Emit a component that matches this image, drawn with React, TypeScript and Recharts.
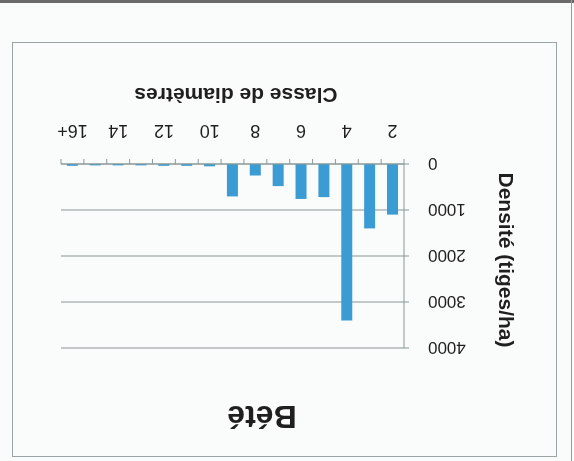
import React from "react";
import { BarChart, Bar, XAxis, YAxis, CartesianGrid } from "recharts";

// Diameter classes and stem density per class (stems/ha)
const classes = ["2", "3", "4", "5", "6", "7", "8", "9", "10", "11", "12", "13", "14", "15", "16+"];
const densite = [1100, 1400, 3400, 720, 760, 480, 250, 705, 50, 40, 40, 30, 30, 30, 40];
const densiteTicks = [0, 1000, 2000, 3000, 4000];

const data = classes.map((classe, i) => ({ classe, densite: densite[i] }));

const FONT = "'Liberation Sans', Arial, sans-serif";
const AXIS_COLOR = "#8a9a98";
const GRID_COLOR = "#8a9494";
const BAR_COLOR = "#3b9bd3";
const TEXT_COLOR = "#1f1f1f";

const X_TICK_OFFSET = 26;
const X_TICK_LEN = 5;

// Category ticks: a mark on each class boundary, label on every other class
const ClasseTick = (props: any) => {
  const { x, y, payload, index, visibleTicksCount } = props;
  const half = payload?.offset ?? 0;
  const axisY = y - X_TICK_OFFSET;
  const isLast = index === visibleTicksCount - 1;
  return (
    <g>
      <line x1={x - half} x2={x - half} y1={axisY} y2={axisY + X_TICK_LEN} stroke={AXIS_COLOR} />
      {isLast && (
        <line x1={x + half} x2={x + half} y1={axisY} y2={axisY + X_TICK_LEN} stroke={AXIS_COLOR} />
      )}
      {index % 2 === 0 && (
        <text x={x} y={y} dy="0.71em" textAnchor="middle" fontSize={18} fill={TEXT_COLOR} fontFamily={FONT}>
          {payload.value}
        </text>
      )}
    </g>
  );
};

export default function App() {
  return (
    <div
      style={{
        position: "fixed",
        left: 0,
        top: 0,
        width: 574,
        height: 461,
        background: "#fafbfb",
        transform: "rotate(180deg)",
        fontFamily: FONT,
        color: TEXT_COLOR,
        overflow: "hidden",
      }}
    >
      {/* chart area frame */}
      <div
        style={{
          position: "absolute",
          left: 17,
          top: 4,
          width: 543,
          height: 413,
          border: "1px solid #9aa4a4",
        }}
      />
      <div style={{ position: "absolute", left: 0, top: 458, width: 574, height: 3, background: "#6a6a6a" }} />
      <div style={{ position: "absolute", left: 2, top: 0, width: 1, height: 461, background: "#9a9a9a" }} />

      <div
        style={{
          position: "absolute",
          left: 312,
          top: 44,
          transform: "translate(-50%, -50%)",
          fontSize: 32,
          fontWeight: "bold",
          whiteSpace: "nowrap",
        }}
      >
        Bété
      </div>

      <BarChart
        width={574}
        height={461}
        data={data}
        margin={{ top: 113, right: 61, bottom: 0, left: 0 }}
        barSize={11}
      >
        <CartesianGrid vertical={false} stroke={GRID_COLOR} />
        <XAxis
          dataKey="classe"
          interval={0}
          height={164}
          tickSize={0}
          tickMargin={X_TICK_OFFSET}
          tick={<ClasseTick />}
          axisLine={{ stroke: AXIS_COLOR }}
        />
        <YAxis
          width={170}
          domain={[0, 4000]}
          ticks={densiteTicks}
          tickSize={5}
          tickMargin={19}
          tick={{ fontSize: 17, fill: TEXT_COLOR, fontFamily: FONT }}
          axisLine={{ stroke: AXIS_COLOR }}
          tickLine={{ stroke: AXIS_COLOR }}
        />
        <Bar dataKey="densite" fill={BAR_COLOR} isAnimationActive={false} />
      </BarChart>

      <div
        style={{
          position: "absolute",
          left: 338,
          top: 366,
          transform: "translate(-50%, -50%)",
          fontSize: 21,
          fontWeight: "bold",
          whiteSpace: "nowrap",
        }}
      >
        Classe de diamètres
      </div>
      <div
        style={{
          position: "absolute",
          left: 68,
          top: 201,
          transform: "translate(-50%, -50%) rotate(-90deg)",
          fontSize: 21,
          fontWeight: "bold",
          whiteSpace: "nowrap",
        }}
      >
        Densité (tiges/ha)
      </div>
    </div>
  );
}
